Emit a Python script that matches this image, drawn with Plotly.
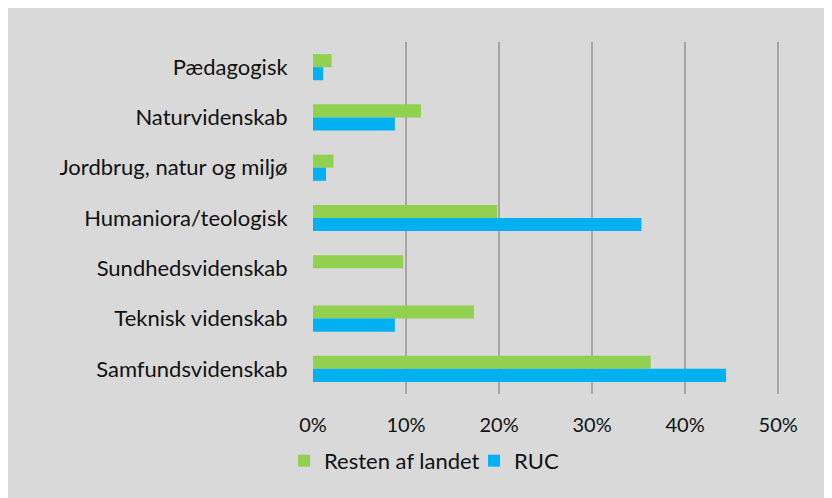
import plotly.graph_objects as go

categories = ['Pædagogisk', 'Naturvidenskab', 'Jordbrug, natur og miljø',
              'Humaniora/teologisk', 'Sundhedsvidenskab', 'Teknisk videnskab',
              'Samfundsvidenskab']
resten = [0.020, 0.116, 0.022, 0.198, 0.097, 0.173, 0.363]
ruc = [0.011, 0.088, 0.014, 0.353, None, 0.088, 0.444]
x_ticks = [0, 0.1, 0.2, 0.3, 0.4, 0.5]

green = '#92D050'
blue = '#00B0F0'
bg = '#D9D9D9'
font_family = 'Lato, Open Sans, sans-serif'

fig = go.Figure()

fig.add_trace(go.Bar(
  y=categories, x=resten, orientation='h', name='Resten af landet',
  marker=dict(color=green, line=dict(width=0)),
))
fig.add_trace(go.Bar(
  y=categories, x=ruc, orientation='h', name='RUC',
  marker=dict(color=blue, line=dict(width=0)),
))

# page body margin (8px) gives the thin white strip top and left
fig.update_layout(
  barmode='group',
  bargap=0.48,
  bargroupgap=0,
  width=824,
  height=490,
  paper_bgcolor=bg,
  plot_bgcolor=bg,
  font=dict(family=font_family, size=22, color='#111111'),
  margin=dict(l=305, r=52, t=34, b=104, pad=0),
  showlegend=True,
  legend=dict(
    orientation='h',
    x=-0.062, xanchor='left',
    y=-0.19, yanchor='middle',
    font=dict(size=22),
    bgcolor='rgba(0,0,0,0)',
    entrywidth=145,
  ),
)

# range slightly past 50% so the last gridline is still drawn
fig.update_xaxes(
  range=[0, 0.502],
  tickvals=x_ticks,
  tickformat='.0%',
  tickfont=dict(size=20),
  showgrid=True,
  gridcolor='#A6A6A6',
  gridwidth=2,
  zeroline=False,
  showline=False,
  ticks='outside',
  ticklen=13,
  tickcolor='rgba(0,0,0,0)',
  fixedrange=True,
)

fig.update_yaxes(
  autorange='reversed',
  showgrid=False,
  zeroline=False,
  showline=False,
  ticks='outside',
  ticklen=20,
  tickcolor='rgba(0,0,0,0)',
)

fig.write_html('out.html')
